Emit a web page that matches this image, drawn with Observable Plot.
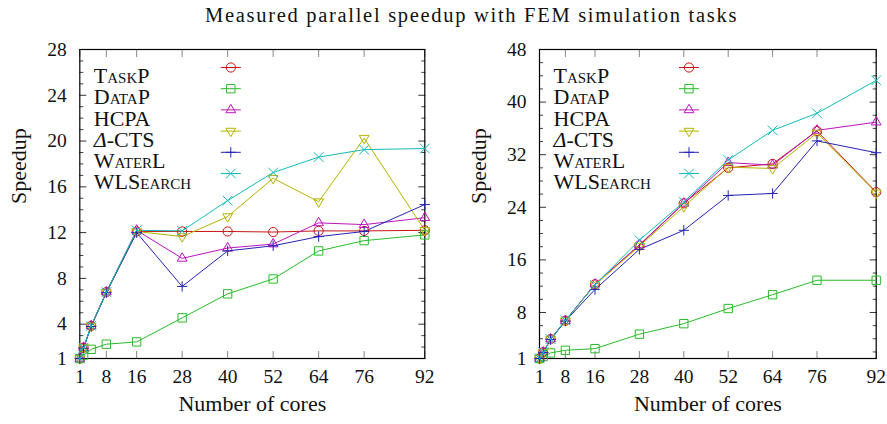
<!DOCTYPE html>
<html><head><meta charset="utf-8">
<script src="https://cdn.jsdelivr.net/npm/d3@7"></script>
<script src="https://cdn.jsdelivr.net/npm/@observablehq/plot@0.6"></script>
<style>
body{margin:0;background:#fff;}
#wrap{position:relative;width:887px;height:424px;font-family:"Liberation Serif",serif;}
#title{position:absolute;top:4px;left:205px;font-size:20.5px;color:#111;white-space:nowrap;letter-spacing:1.7px;}
.panel{position:absolute;top:0;}
</style></head><body>
<div id="wrap">
<div id="title">Measured parallel speedup with FEM simulation tasks</div>
<div id="left" class="panel" style="left:0px"></div>
<div id="right" class="panel" style="left:443px"></div>
</div>
<script>
const cores = [1, 2, 4, 8, 16, 28, 40, 52, 64, 76, 92];
const xTickLabels = [1, 8, 16, 28, 40, 52, 64, 76, 92];
const seriesNames = ["TaskP", "DataP", "HCPA", "Δ-CTS", "WaterL", "WLSearch"];
const smallCaps = [true, true, false, false, true, true];
const colors = ["#c81414", "#28bc28", "#bc14bc", "#b4b400", "#2424b4", "#14bcbc"];

// left panel values
const taskPLeft   = [1, 1.95, 3.85, 6.8, 12.1, 12.1, 12.1, 12.05, 12.15, 12.15, 12.2];
const dataPLeft   = [1, 1.3, 1.8, 2.25, 2.45, 4.55, 6.65, 7.95, 10.4, 11.3, 11.8];
const hcpaLeft    = [1, 1.95, 3.85, 6.8, 12.2, 9.75, 10.65, 11.0, 12.85, 12.7, 13.3];
const ctsLeft     = [1, 1.95, 3.85, 6.8, 12.1, 11.65, 13.4, 16.75, 14.7, 20.25, 12.2];
const waterLLeft  = [1, 1.9, 3.8, 6.75, 12.0, 7.3, 10.4, 10.85, 11.65, 12.1, 14.45];
const wlsLeft     = [1, 1.95, 3.85, 6.8, 12.2, 12.15, 14.8, 17.25, 18.6, 19.25, 19.35];
const yTicksLeft  = [1, 4, 8, 12, 16, 20, 24, 28];

// right panel values
const taskPRight  = [1, 1.95, 3.95, 6.75, 12.3, 18.2, 24.6, 30.0, 30.6, 35.6, 26.3];
const dataPRight  = [1, 1.3, 1.85, 2.25, 2.5, 4.7, 6.3, 8.6, 10.7, 12.9, 12.9];
const hcpaRight   = [1, 1.95, 3.95, 6.75, 12.3, 18.3, 24.6, 30.8, 30.4, 35.7, 36.95];
const ctsRight    = [1, 1.95, 3.95, 6.75, 12.2, 18.1, 24.1, 30.1, 29.9, 35.3, 26.2];
const waterLRight = [1, 1.9, 3.9, 6.7, 11.5, 17.6, 20.5, 25.8, 26.1, 34.1, 32.3];
const wlsRight    = [1, 1.95, 3.95, 6.8, 12.2, 19.0, 24.8, 31.2, 35.7, 38.3, 43.3];
const yTicksRight = [1, 8, 16, 24, 32, 40, 48];

const triangleDown = {
  draw(context, size) {
    const y = -Math.sqrt(size / (Math.sqrt(3) * 3));
    const s = Math.sqrt(3);
    context.moveTo(0, -y * 2);
    context.lineTo(-s * y, y);
    context.lineTo(s * y, y);
    context.closePath();
  }
};
const scaled = (sym, k) => ({draw(context, size) { sym.draw(context, size * k); }});
const hline = {draw(context) { context.moveTo(-10, 0); context.lineTo(10, 0); }};
const symbols = [
  scaled(d3.symbolCircle, 1),
  scaled(d3.symbolSquare, 1.05),
  scaled(d3.symbolTriangle, 0.62),
  scaled(triangleDown, 0.62),
  scaled(d3.symbolPlus, 0.55),
  scaled(d3.symbolTimes, 0.95)
];

function panel(el, vals, yMax, yTicks, minorStep, width, mL, mR, legendX) {
  const data = [];
  seriesNames.forEach((s, i) => vals[i].forEach((v, j) => data.push({series: s, x: cores[j], y: v})));
  const minor = d3.range(1, yMax + 1).filter(v => v % minorStep === 0 && !yTicks.includes(v));
  const blank = () => "";
  const marks = [
    // minor y ticks
    Plot.axisY(minor, {tickSize: 4, dx: 4, tickFormat: blank, stroke: "#444", label: null}),
    Plot.axisY(minor, {anchor: "right", tickSize: 4, dx: -4, tickFormat: blank, stroke: "#444", label: null}),
    // major y ticks
    Plot.axisY(yTicks, {tickSize: 7, dx: 7, tickFormat: blank, stroke: "#333", label: null}),
    Plot.axisY(yTicks, {anchor: "right", tickSize: 7, dx: -7, tickFormat: blank, stroke: "#333", label: null}),
    // x ticks
    Plot.axisX(xTickLabels, {tickSize: 7, dy: -7, tickFormat: blank, stroke: "#888", label: null}),
    Plot.axisX(xTickLabels, {anchor: "top", tickSize: 7, dy: 7, tickFormat: blank, stroke: "#888", label: null}),
    // labels
    Plot.axisY(yTicks, {tickSize: 0, tickPadding: 13, fontSize: 19.5, fill: "#111", label: null}),
    Plot.axisX(xTickLabels, {tickSize: 0, tickPadding: 11, fontSize: 19.5, fill: "#111", label: null}),
    Plot.frame({stroke: "black", strokeWidth: 1.2}),
    Plot.line(data, {x: "x", y: "y", z: "series", stroke: "series", strokeWidth: 1}),
    Plot.dot(data, {x: "x", y: "y", stroke: "series", symbol: "series", r: 4.6, strokeWidth: 1}),
    Plot.text(["Speedup"], {frameAnchor: "left", dx: -61, rotate: -90, fontSize: 22, fill: "#111", letterSpacing: 1}),
    Plot.text(["Number of cores"], {frameAnchor: "bottom", dy: 52, fontSize: 22, fill: "#111", letterSpacing: 1})
  ];
  seriesNames.forEach((s, i) => {
    const dy = 18 + i * 21.2;
    marks.push(Plot.text([s], {frameAnchor: "top-left", dx: 14, dy, textAnchor: "start", fontSize: 22,
      fontVariant: smallCaps[i] ? "small-caps" : "normal", fill: "#111", letterSpacing: 1.8}));
    marks.push(Plot.dot([s], {frameAnchor: "top-left", dx: legendX, dy, symbol: hline, stroke: colors[i], strokeWidth: 1}));
    marks.push(Plot.dot([s], {frameAnchor: "top-left", dx: legendX, dy, symbol: symbols[i], r: 4.6, stroke: colors[i], strokeWidth: 1}));
  });
  const svg = Plot.plot({
    width, height: 424,
    marginLeft: mL, marginRight: mR, marginTop: 49, marginBottom: 66,
    style: {fontFamily: "'Liberation Serif', serif", fontSize: "19px", background: "transparent", overflow: "visible"},
    x: {type: "linear", domain: [1, 92]},
    y: {type: "linear", domain: [1, yMax]},
    color: {domain: seriesNames, range: colors},
    symbol: {domain: seriesNames, range: symbols},
    marks
  });
  d3.select(svg).selectAll("text").filter(function() { return this.textContent === "Δ-CTS"; }).each(function() {
    const t = d3.select(this);
    t.text("");
    t.append("tspan").attr("font-style", "italic").text("Δ");
    t.append("tspan").text("-CTS");
  });
  document.getElementById(el).appendChild(svg);
}

panel("left", [taskPLeft, dataPLeft, hcpaLeft, ctsLeft, waterLLeft, wlsLeft], 28, yTicksLeft, 1, 443, 79.3, 18.7, 151);
panel("right", [taskPRight, dataPRight, hcpaRight, ctsRight, waterLRight, wlsRight], 48, yTicksRight, 2, 444, 96, 11.3, 149.5);
</script>
</body></html>
